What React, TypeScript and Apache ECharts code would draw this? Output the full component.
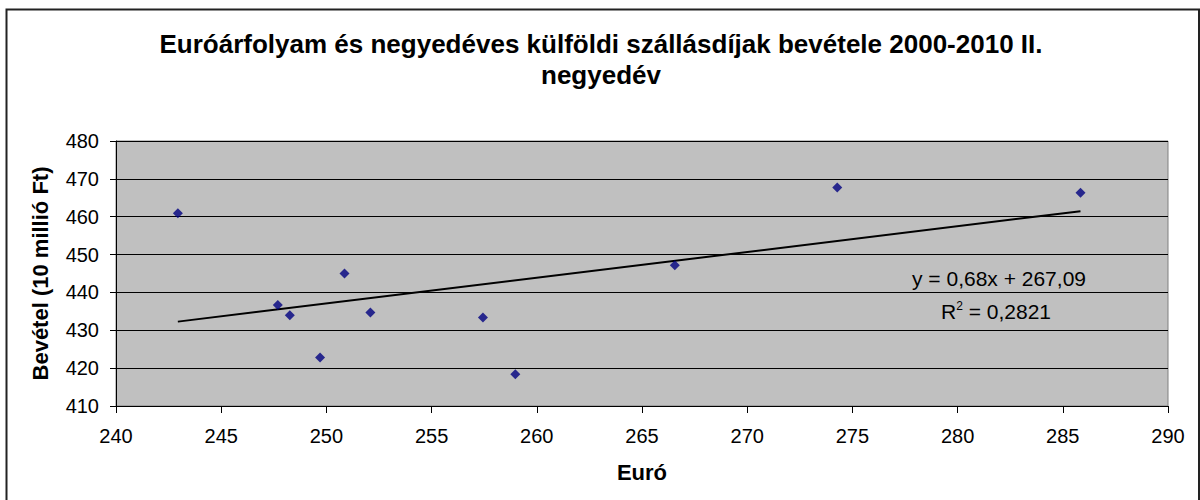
import React, { useEffect, useRef } from "react";
import * as echarts from "echarts";

const titleText = "Euróárfolyam és negyedéves külföldi szállásdíjak bevétele 2000-2010 II.\nnegyedév";
const xAxisName = "Euró";
const yAxisName = "Bevétel (10 millió Ft)";

const euroRates = [242.94, 247.69, 248.26, 249.7, 250.86, 252.09, 257.44, 258.98, 266.56, 274.28, 285.84];
const revenues = [460.9, 436.7, 434.0, 422.8, 445.0, 434.7, 433.4, 418.4, 447.2, 467.7, 466.3];

const trendSlope = 0.68;
const trendIntercept = 267.09;
const equationText = "y = 0,68x + 267,09";
const rSquaredValue = "0,2821";

export default function App() {
  const ref = useRef<HTMLDivElement>(null);
  useEffect(() => {
    document.body.style.margin = "0";
    if (!ref.current) return;
    const chart = echarts.init(ref.current, null, { renderer: "svg" });
    const xMin = Math.min(...euroRates);
    const xMax = Math.max(...euroRates);
    const trend = [
      [xMin, trendSlope * xMin + trendIntercept],
      [xMax, trendSlope * xMax + trendIntercept],
    ];
    const font = "'Liberation Sans', Arial, sans-serif";
    chart.setOption({
      animation: false,
      backgroundColor: "#ffffff",
      textStyle: { fontFamily: font },
      title: {
        text: titleText,
        left: 601,
        textAlign: "center",
        top: 28,
        padding: 0,
        textStyle: { fontSize: 26, fontWeight: "bold", color: "#000", lineHeight: 31, fontFamily: font },
      },
      grid: { left: 116, top: 141, right: 32, bottom: 94, show: true, backgroundColor: "#c0c0c0", borderColor: "#808080", borderWidth: 1 },
      xAxis: {
        type: "value",
        min: 240,
        max: 290,
        interval: 5,
        name: xAxisName,
        nameLocation: "middle",
        nameGap: 55,
        nameTextStyle: { fontSize: 22, fontWeight: "bold", color: "#000", fontFamily: font },
        axisLine: { show: true, onZero: false, lineStyle: { color: "#000", width: 1 } },
        axisTick: { show: true, length: 7, lineStyle: { color: "#000" } },
        axisLabel: { fontSize: 20, color: "#000", margin: 20, fontFamily: font },
        splitLine: { show: false },
      },
      yAxis: {
        type: "value",
        min: 410,
        max: 480,
        interval: 10,
        name: yAxisName,
        nameLocation: "middle",
        nameRotate: 90,
        nameGap: 65,
        nameTextStyle: { fontSize: 22, fontWeight: "bold", color: "#000", fontFamily: font },
        axisLine: { show: true, onZero: false, lineStyle: { color: "#000", width: 1 } },
        axisTick: { show: true, length: 6, lineStyle: { color: "#000" } },
        axisLabel: { fontSize: 20, color: "#000", margin: 17, fontFamily: font },
        splitLine: { show: true, lineStyle: { color: "#000", width: 1 } },
      },
      series: [
        {
          type: "scatter",
          data: euroRates.map((x, i) => [x, revenues[i]]),
          symbol: "diamond",
          symbolSize: 10,
          itemStyle: { color: "#000080" },
          z: 3,
        },
        {
          type: "line",
          data: trend,
          showSymbol: false,
          symbol: "none",
          lineStyle: { color: "#000", width: 2 },
          z: 2,
        },
      ],
      graphic: [
        {
          type: "rect",
          shape: { x: 6.5, y: 9.5, width: 1192.5, height: 500 },
          style: { fill: "none", stroke: "#222", lineWidth: 2 },
          silent: true,
        },
        {
          type: "text",
          x: 999,
          y: 278,
          style: {
            text: equationText,
            fill: "#000",
            font: `21px ${font}`,
            textAlign: "center",
            textVerticalAlign: "middle",
          },
          z: 10,
        },
        {
          type: "text",
          x: 996,
          y: 311,
          style: {
            text: `{r|R}{sup|2}{r| = ${rSquaredValue}}`,
            fill: "#000",
            textAlign: "center",
            textVerticalAlign: "middle",
            rich: {
              r: { fontSize: 21, fontFamily: font, fill: "#000", verticalAlign: "bottom" },
              sup: { fontSize: 12, fontFamily: font, fill: "#000", verticalAlign: "top", padding: [0, 0, 10, 0] },
            },
          },
          z: 10,
        },
      ],
    });
    return () => chart.dispose();
  }, []);
  return <div ref={ref} style={{ width: 1200, height: 500 }} />;
}
